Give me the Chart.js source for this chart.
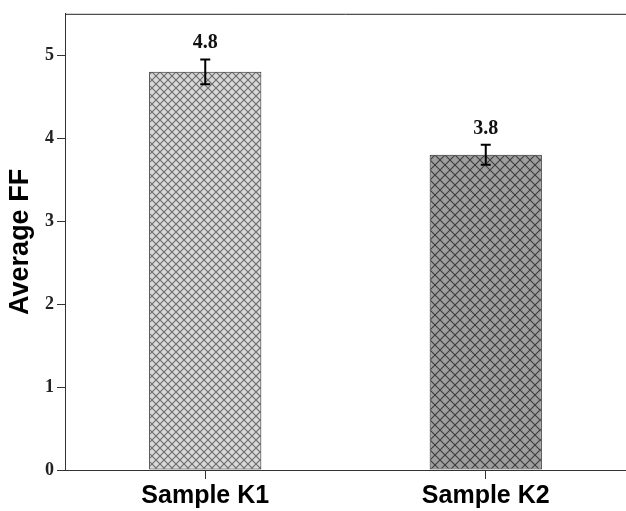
<!DOCTYPE html>
<html><head><meta charset="utf-8">
<script src="https://cdn.jsdelivr.net/npm/chart.js@4.4.0/dist/chart.umd.min.js"></script>
<style>html,body{margin:0;padding:0;background:#fff}#wrap{width:626px;height:511px}</style>
</head><body><div id="wrap"><canvas id="c" width="626" height="511"></canvas></div>
<script>
const categories = ["Sample K1", "Sample K2"];
const values = [4.8, 3.8];
const errors = [0.15, 0.12];
const valueLabels = ["4.8", "3.8"];
const yTicks = [0, 1, 2, 3, 4, 5];

function hatch(bg, line, s, lw) {
  const c = document.createElement('canvas');
  c.width = s; c.height = s;
  const g = c.getContext('2d');
  g.fillStyle = bg; g.fillRect(0, 0, s, s);
  g.strokeStyle = line; g.lineWidth = lw;
  g.beginPath();
  g.moveTo(-1, -1); g.lineTo(s + 1, s + 1);
  g.moveTo(-1, s + 1); g.lineTo(s + 1, -1);
  g.stroke();
  return g.createPattern(c, 'repeat');
}
const fills = [hatch('#d8d8d8', '#6a6a6a', 8, 1.1), hatch('#9e9e9e', '#3c3c3c', 10, 1.1)];

const extras = {
  id: 'extras',
  afterDatasetsDraw(chart) {
    const ctx = chart.ctx, x = chart.scales.x, y = chart.scales.y, a = chart.chartArea;
    ctx.save();
    ctx.strokeStyle = '#222'; ctx.lineWidth = 1;
    ctx.beginPath(); ctx.moveTo(a.left, a.top + 0.5); ctx.lineTo(a.right, a.top + 0.5); ctx.stroke();
    ctx.strokeStyle = '#000'; ctx.lineWidth = 2;
    values.forEach((v, i) => {
      const cx = x.getPixelForValue(i);
      const t = y.getPixelForValue(v + errors[i]), b = y.getPixelForValue(v - errors[i]);
      ctx.beginPath();
      ctx.moveTo(cx, t); ctx.lineTo(cx, b);
      ctx.moveTo(cx - 5, t); ctx.lineTo(cx + 5, t);
      ctx.moveTo(cx - 5, b); ctx.lineTo(cx + 5, b);
      ctx.stroke();
      ctx.fillStyle = '#111';
      ctx.font = 'bold 20px "Liberation Serif", "Times New Roman", serif';
      ctx.textAlign = 'center'; ctx.textBaseline = 'alphabetic';
      ctx.fillText(valueLabels[i], cx, t - 11);
    });
    ctx.restore();
  }
};

new Chart(document.getElementById('c'), {
  type: 'bar',
  data: {
    labels: categories,
    datasets: [{
      data: values,
      backgroundColor: fills,
      borderColor: '#222',
      borderWidth: 1,
      borderSkipped: false,
      barPercentage: 0.4,
      categoryPercentage: 1.0
    }]
  },
  options: {
    responsive: false,
    animation: false,
    devicePixelRatio: 1,
    layout: { padding: { top: 12, right: 0, left: 0, bottom: 0 } },
    plugins: { legend: { display: false }, tooltip: { enabled: false } },
    scales: {
      x: {
        offset: true,
        grid: { display: true, drawOnChartArea: false, drawTicks: true, tickLength: 9, color: '#333', offset: false },
        border: { display: true, color: '#333', width: 1 },
        ticks: { color: '#000', padding: 2, font: { family: 'Liberation Sans, Arial, sans-serif', size: 25, weight: 'bold' } },
        afterFit(s) { s.height = 41; }
      },
      y: {
        min: 0, max: 5.5,
        afterBuildTicks(s) { s.ticks = yTicks.map(v => ({ value: v })); },
        grid: { display: true, drawOnChartArea: false, drawTicks: true, tickLength: 8, color: '#333' },
        border: { display: true, color: '#333', width: 1 },
        ticks: { color: '#222', padding: 3, font: { family: 'Liberation Serif, Times New Roman, serif', size: 18, weight: 'bold' } },
        title: { display: true, text: 'Average FF', color: '#000', padding: { top: 4, bottom: 0 }, font: { family: 'Liberation Sans, Arial, sans-serif', size: 27, weight: 'bold' } },
        afterFit(s) { s.width = 65; }
      }
    }
  },
  plugins: [extras]
});
</script></body></html>
